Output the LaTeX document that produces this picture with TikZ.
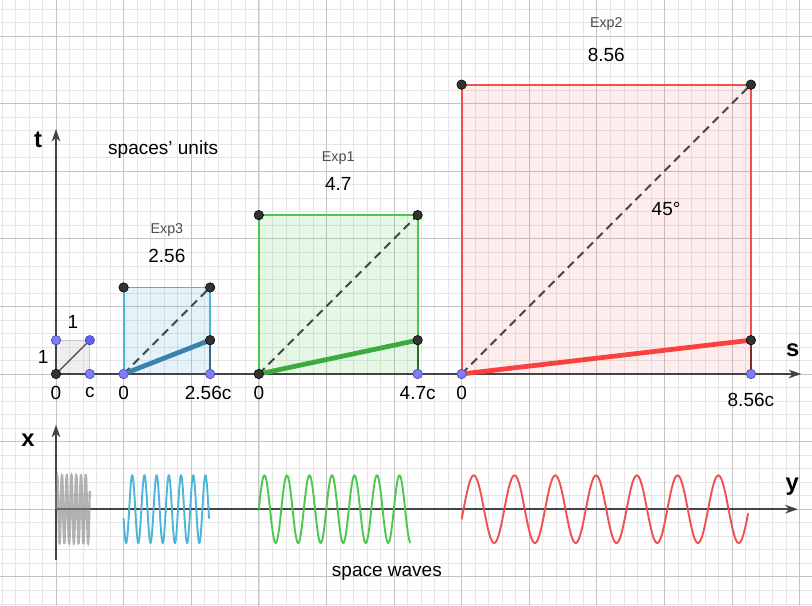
\documentclass[tikz,border=0pt]{standalone}
\usepackage{fontspec}
\setmainfont{Liberation Sans}
\usetikzlibrary{arrows.meta, positioning}
\definecolor{AxisGray}{RGB}{68,68,68}
\definecolor{GridMajor}{RGB}{196,196,196}
\definecolor{GridMinor}{RGB}{230,230,230}
\definecolor{PtBlue}{RGB}{125,125,255}
\definecolor{PtDark}{RGB}{51,51,51}
\definecolor{ExpBlue}{RGB}{77,181,219}
\definecolor{ExpBlueDk}{RGB}{58,130,172}
\definecolor{ExpGreen}{RGB}{76,200,76}
\definecolor{ExpGreenDk}{RGB}{60,170,60}
\definecolor{ExpRed}{RGB}{240,80,80}
\definecolor{ExpRedDk}{RGB}{250,64,64}

\begin{document}
\begin{tikzpicture}[
	pt/.style={circle, fill=PtBlue, draw=PtBlue!55!black, line width=0.5pt, minimum size=2.8mm, inner sep=0pt},
	ptd/.style={pt, fill=PtDark, draw=black},
	ax/.style={-{Stealth[length=3.8mm, width=2.6mm]}, line width=1.3pt, AxisGray},
	box/.style={line width=1.6pt, fill opacity=0.12},
	diag/.style={dashed, dash pattern=on 7pt off 4.5pt, line width=1.6pt, AxisGray},
	rod/.style={line width=4pt},
	wave/.style={line width=1.6pt},
	lbl/.style={font=\fontsize{16}{19}\selectfont, text=black},
	exl/.style={font=\fontsize{12}{14}\selectfont, text=black!70},
	axl/.style={font=\fontsize{20}{24}\selectfont\bfseries, text=black}]

	\fill[white] (-1.657,-6.864) rectangle (22.367,11.065);
	\useasboundingbox (-1.657,-6.864) rectangle (22.367,11.065);
	\draw[GridMinor, line width=0.5pt] (-1.657,-6.864) grid[step=0.4] (22.367,11.065);
	\draw[GridMajor, line width=0.7pt] (-1.657,-6.864) grid[step=2] (22.367,11.065);

	% corners
	\coordinate (O)  at (0,0);
	\coordinate (U1) at (1,0);
	\coordinate (U2) at (1,1);
	\coordinate (U3) at (0,1);
	\coordinate (A0) at (2,0);
	\coordinate (A1) at (4.56,0);
	\coordinate (A2) at (4.56,2.56);
	\coordinate (A3) at (2,2.56);
	\coordinate (Am) at (4.56,1);
	\coordinate (B0) at (6,0);
	\coordinate (B1) at (10.7,0);
	\coordinate (B2) at (10.7,4.7);
	\coordinate (B3) at (6,4.7);
	\coordinate (Bm) at (10.7,1);
	\coordinate (C0) at (12,0);
	\coordinate (C1) at (20.56,0);
	\coordinate (C2) at (20.56,8.56);
	\coordinate (C3) at (12,8.56);
	\coordinate (Cm) at (20.56,1);
	\coordinate (tEnd) at (0,7.25);
	\coordinate (sEnd) at (22.05,0);
	\coordinate (xBot) at (0,-5.5);
	\coordinate (xEnd) at (0,-1.5);
	\coordinate (W)    at (0,-4);
	\coordinate (yEnd) at (21.95,-4);

	% boxes
	\filldraw[fill=gray!40, draw=gray!45, line width=1pt, fill opacity=0.3] (O) rectangle (U2);
	\filldraw[box, draw=ExpBlue, fill=ExpBlue, fill opacity=0.15] (A0) rectangle (A2);
	\filldraw[box, draw=ExpGreen, fill=ExpGreen, fill opacity=0.14] (B0) rectangle (B2);
	\filldraw[box, draw=ExpRed, fill=ExpRed, fill opacity=0.1] (C0) rectangle (C2);
	\draw[line width=1.6pt, ExpBlue!60!black] (A1) -- (Am);
	\draw[line width=1.6pt, ExpGreen!55!black] (B1) -- (Bm);
	\draw[line width=1.6pt, ExpRed!55!black] (C1) -- (Cm);

	\draw[diag] (A0) -- (A2);
	\draw[diag] (B0) -- (B2);
	\draw[diag] (C0) -- (C2);
	\draw[line width=1pt, AxisGray] (O) -- (U2);

	% axes
	\draw[ax] (O) -- (tEnd);
	\draw[ax] (O) -- (sEnd);
	\draw[ax] (xBot) -- (xEnd);
	\draw[ax] (W) -- (yEnd);

	\draw[rod, ExpBlueDk] (A0) -- (Am);
	\draw[rod, ExpGreenDk] (B0) -- (Bm);
	\draw[rod, ExpRedDk] (C0) -- (Cm);

	% waves
	\draw[wave, gray, line width=2pt, opacity=0.6] plot[domain=0:1, samples=400] (\x, {-4+sin(360*7.1*\x)});
	\draw[wave, ExpBlue] plot[domain=2:4.53, samples=300] (\x, {-4+sin(360*(\x-2)/0.361+195.7)});
	\draw[wave, ExpGreen] plot[domain=6:10.49, samples=300] (\x, {-4+sin(360*(\x-6)/0.666)});
	\draw[wave, ExpRed] plot[domain=12:20.48, samples=300] (\x, {-4+sin(360*(\x-12)/1.206-17.5)});

	% points
	\node[ptd] (pO) at (O) {};
	\node[pt] (pU1) at (U1) {};
	\node[pt, fill=PtBlue!75!blue] (pU2) at (U2) {};
	\node[pt] (pU3) at (U3) {};
	\node[pt] (pA0) at (A0) {};
	\node[pt] (pA1) at (A1) {};
	\node[ptd] (pA2) at (A2) {};
	\node[ptd] (pA3) at (A3) {};
	\node[ptd] (pAm) at (Am) {};
	\node[ptd] (pB0) at (B0) {};
	\node[pt] (pB1) at (B1) {};
	\node[ptd] (pB2) at (B2) {};
	\node[ptd] (pB3) at (B3) {};
	\node[ptd] (pBm) at (Bm) {};
	\node[pt] (pC0) at (C0) {};
	\node[pt] (pC1) at (C1) {};
	\node[ptd] (pC2) at (C2) {};
	\node[ptd] (pC3) at (C3) {};
	\node[ptd] (pCm) at (Cm) {};

	% labels
	\node[axl] (lt) at (-0.53,6.92) {t};
	\node[axl] (ls) at (21.8,0.71) {s};
	\node[axl] (lx) at (-0.83,-1.95) {x};
	\node[axl] (ly) at (21.78,-3.34) {y};
	\node[lbl] (lunits) at (3.17,6.63) {spaces' units};
	\node[lbl] (lone1) at (0.5,1.54) {1};
	\node[lbl] (lone2) at (-0.38,0.5) {1};
	\node[lbl] (l0) at (0,-0.56) {0};
	\node[lbl] (lc) at (1,-0.56) {c};
	\node[lbl] (lA0) at (2,-0.56) {0};
	\node[lbl] (lA1) at (4.5,-0.56) {2.56c};
	\node[lbl] (lB0) at (6,-0.56) {0};
	\node[lbl] (lB1) at (10.7,-0.56) {4.7c};
	\node[lbl] (lC0) at (12,-0.56) {0};
	\node[lbl] (lC1) at (20.56,-0.77) {8.56c};
	\node[exl] (eA) at (3.28,4.26) {Exp3};
	\node[lbl] (vA) at (3.28,3.49) {2.56};
	\node[exl] (eB) at (8.35,6.39) {Exp1};
	\node[lbl] (vB) at (8.35,5.62) {4.7};
	\node[exl] (eC) at (16.28,10.36) {Exp2};
	\node[lbl] (vC) at (16.28,9.44) {8.56};
	\node[lbl] (lang) at (18.05,4.88) {45°};
	\node[lbl] (lwaves) at (9.79,-5.89) {space waves};
\end{tikzpicture}
\end{document}
